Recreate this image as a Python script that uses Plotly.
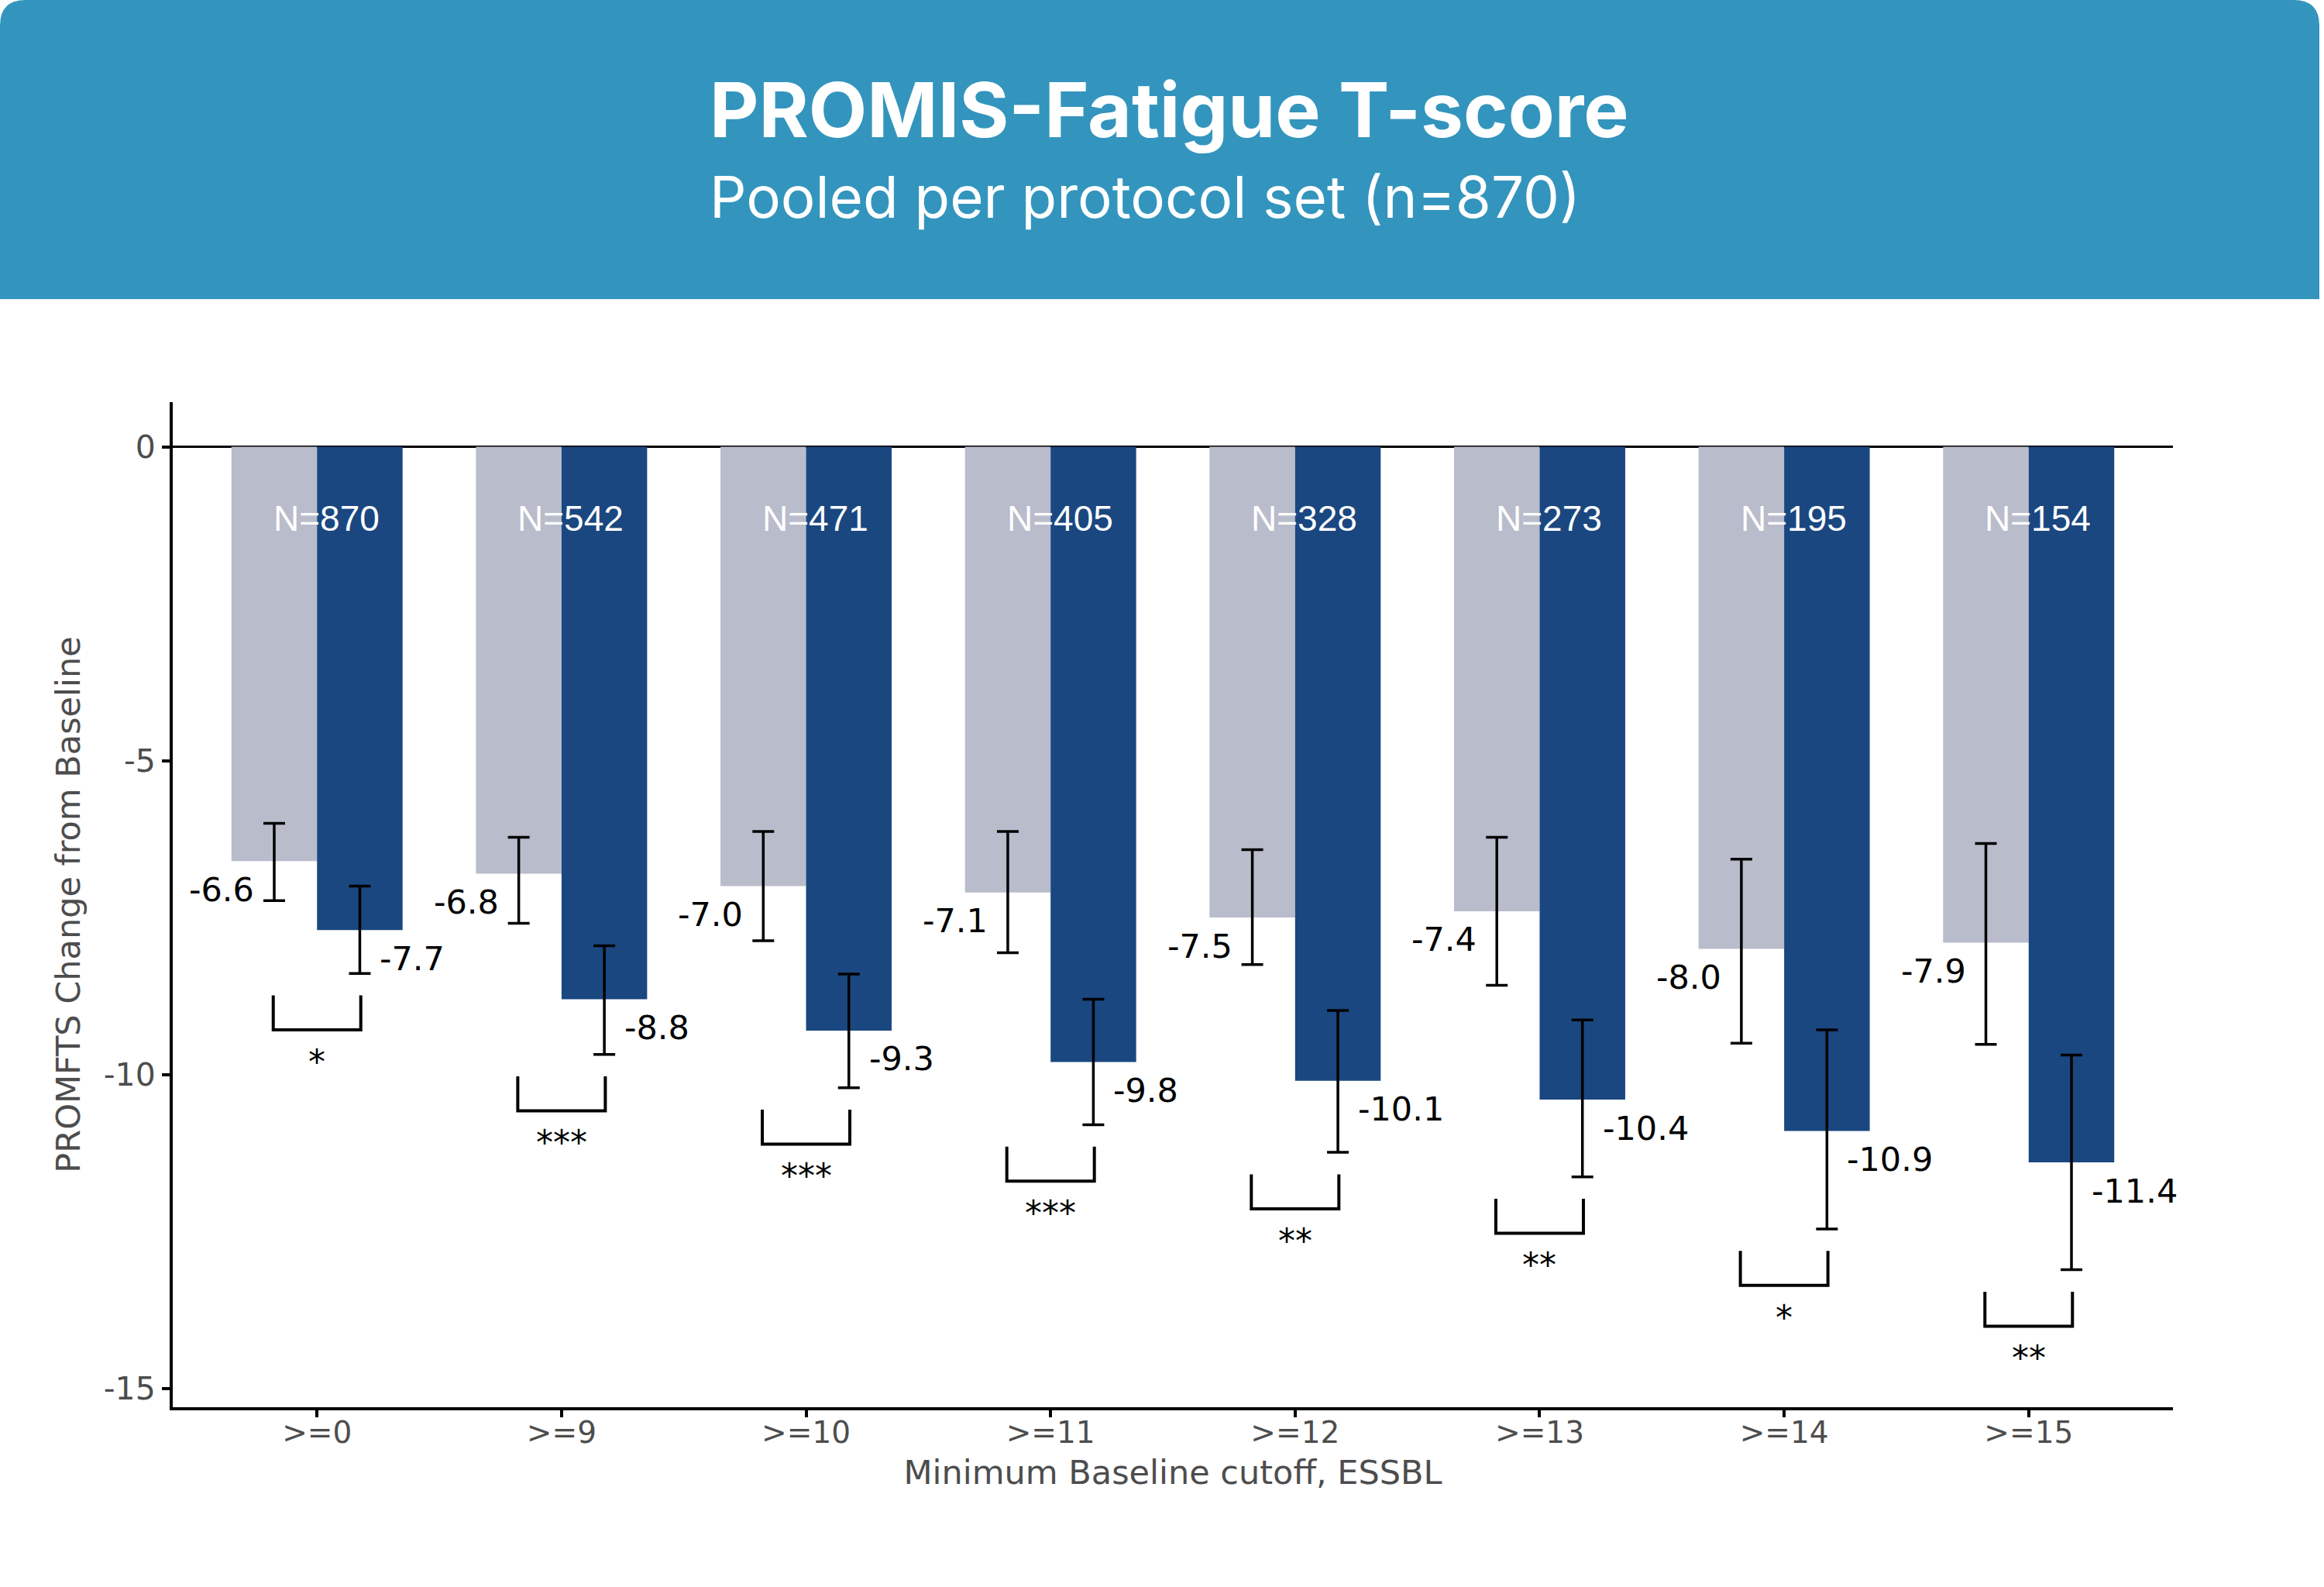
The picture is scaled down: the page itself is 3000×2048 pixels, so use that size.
import plotly.graph_objects as go

# ---------------- data ----------------
categories = [">=0", ">=9", ">=10", ">=11", ">=12", ">=13", ">=14", ">=15"]
n_per_group = [870, 542, 471, 405, 328, 273, 195, 154]

placebo_mean = [-6.6, -6.8, -7.0, -7.1, -7.5, -7.4, -8.0, -7.9]
placebo_err_up = [0.60, 0.58, 0.87, 0.97, 1.08, 1.18, 1.43, 1.58]
placebo_err_down = [0.63, 0.79, 0.87, 0.96, 0.75, 1.18, 1.50, 1.62]

active_mean = [-7.7, -8.8, -9.3, -9.8, -10.1, -10.4, -10.9, -11.4]
active_err_up = [0.70, 0.85, 0.90, 1.00, 1.12, 1.27, 1.61, 1.71]
active_err_down = [0.69, 0.88, 0.91, 1.00, 1.14, 1.23, 1.56, 1.71]

significance = ["*", "***", "***", "***", "**", "**", "*", "**"]

y_tick_values = [0, -5, -10, -15]
y_tick_labels = ["0", "-5", "-10", "-15"]

title_text = "PROMIS-Fatigue T-score"
subtitle_text = "Pooled per protocol set (n=870)"
x_title = "Minimum Baseline cutoff, ESSBL"
y_title = "PROMFTS Change from Baseline"

# ---------------- styling / layout constants ----------------
W, H = 3000, 2048
ML, MR, MT, MB = 223, 195, 519, 232
PW, PH = W - ML - MR, H - MT - MB

GRAY = "#B9BCCB"
BLUE = "#1A4780"
HEADER = "#3395BD"
FONT = "DejaVu Sans, Verdana, sans-serif"
NFONT = "Liberation Sans, Arial, sans-serif"
HFONT = "Inter, Lato, sans-serif"
TICK_GRAY = "#4D4D4D"

BAR_W = 0.35
HALF = BAR_W / 2


def px_to_paper_x(px):
    return (px - ML) / PW


def px_to_paper_y(py):
    return (H - MB - py) / PH


idx = list(range(len(categories)))
x_placebo = [i - HALF for i in idx]
x_active = [i + HALF for i in idx]

fig = go.Figure()

fig.add_trace(go.Bar(
    x=x_placebo, y=placebo_mean, width=BAR_W,
    marker=dict(color=GRAY, line=dict(width=0)),
    error_y=dict(type="data", symmetric=False, array=placebo_err_up,
                 arrayminus=placebo_err_down, color="black",
                 thickness=3.5, width=14),
    showlegend=False, hoverinfo="skip",
))
fig.add_trace(go.Bar(
    x=x_active, y=active_mean, width=BAR_W,
    marker=dict(color=BLUE, line=dict(width=0)),
    error_y=dict(type="data", symmetric=False, array=active_err_up,
                 arrayminus=active_err_down, color="black",
                 thickness=3.5, width=14),
    showlegend=False, hoverinfo="skip",
))

# significance brackets
bx, by = [], []
star_y = []
for i in idx:
    top = active_mean[i] - active_err_down[i] - 0.35
    bot = top - 0.55
    xl, xr = i - HALF - 0.004, i + HALF + 0.004
    bx += [xl, xl, xr, xr, None]
    by += [top, bot, bot, top, None]
    star_y.append(bot - 0.17)
fig.add_trace(go.Scatter(
    x=bx, y=by, mode="lines",
    line=dict(color="black", width=4),
    showlegend=False, hoverinfo="skip",
))

annotations = []
for i in idx:
    # N labels
    annotations.append(dict(
        x=i, y=-1.14, xref="x", yref="y", text=f"N={n_per_group[i]}",
        showarrow=False, font=dict(family=NFONT, size=46, color="white"),
        xanchor="center", yanchor="middle", xshift=12,
    ))
    # placebo value labels
    annotations.append(dict(
        x=x_placebo[i], y=placebo_mean[i] - 0.45, xref="x", yref="y",
        text=f"{placebo_mean[i]:.1f}", showarrow=False,
        font=dict(family=FONT, size=43, color="black"),
        xanchor="right", yanchor="middle", xshift=-24,
    ))
    # active value labels
    annotations.append(dict(
        x=x_active[i], y=active_mean[i] - 0.45, xref="x", yref="y",
        text=f"{active_mean[i]:.1f}", showarrow=False,
        font=dict(family=FONT, size=43, color="black"),
        xanchor="left", yanchor="middle", xshift=24,
    ))
    # stars
    annotations.append(dict(
        x=i, y=star_y[i], xref="x", yref="y", text=significance[i],
        showarrow=False, font=dict(family=FONT, size=44, color="black"),
        xanchor="center", yanchor="top",
    ))

# header texts
annotations.append(dict(
    x=px_to_paper_x(914), y=px_to_paper_y(141), xref="paper", yref="paper",
    text=title_text, showarrow=False,
    font=dict(family=HFONT, size=98, color="white", weight=700),
    xanchor="left", yanchor="middle",
))
annotations.append(dict(
    x=px_to_paper_x(914), y=px_to_paper_y(254), xref="paper", yref="paper",
    text=subtitle_text, showarrow=False,
    font=dict(family=HFONT, size=74.5, color="white"),
    xanchor="left", yanchor="middle",
))

# header band with rounded top corners
xL, xR = px_to_paper_x(0), px_to_paper_x(2994)
yT, yB = px_to_paper_y(0), px_to_paper_y(386)
dx, dy = 33 / PW, 33 / PH
header_path = (
    f"M {xL},{yB} L {xL},{yT - dy} Q {xL},{yT} {xL + dx},{yT} "
    f"L {xR - dx},{yT} Q {xR},{yT} {xR},{yT - dy} L {xR},{yB} Z"
)
shapes = [dict(type="path", path=header_path, xref="paper", yref="paper",
               fillcolor=HEADER, line=dict(width=0), layer="below")]

fig.update_layout(
    width=W, height=H,
    margin=dict(l=ML, r=MR, t=MT, b=MB, pad=0),
    paper_bgcolor="white", plot_bgcolor="white",
    barmode="overlay",
    annotations=annotations, shapes=shapes,
    font=dict(family=FONT),
)
fig.update_xaxes(
    range=[-0.59, 7.59], tickmode="array", tickvals=idx, ticktext=categories,
    showline=True, linecolor="black", linewidth=4,
    ticks="outside", ticklen=9, tickwidth=4, tickcolor="black",
    ticklabelstandoff=-14,
    showgrid=False, zeroline=False,
    tickfont=dict(family=FONT, size=39, color=TICK_GRAY),
    title=dict(text=x_title, font=dict(family=FONT, size=43, color=TICK_GRAY),
               standoff=16),
)
fig.update_yaxes(
    range=[-15.3, 0.71], tickmode="array", tickvals=y_tick_values,
    ticktext=y_tick_labels,
    showline=True, linecolor="black", linewidth=4,
    ticks="outside", ticklen=10, tickwidth=4, tickcolor="black",
    showgrid=False, zeroline=True, zerolinecolor="black", zerolinewidth=3,
    tickfont=dict(family=FONT, size=41, color=TICK_GRAY),
    title=dict(text=y_title, font=dict(family=FONT, size=43, color=TICK_GRAY),
               standoff=18),
)

fig.write_html("out.html")
